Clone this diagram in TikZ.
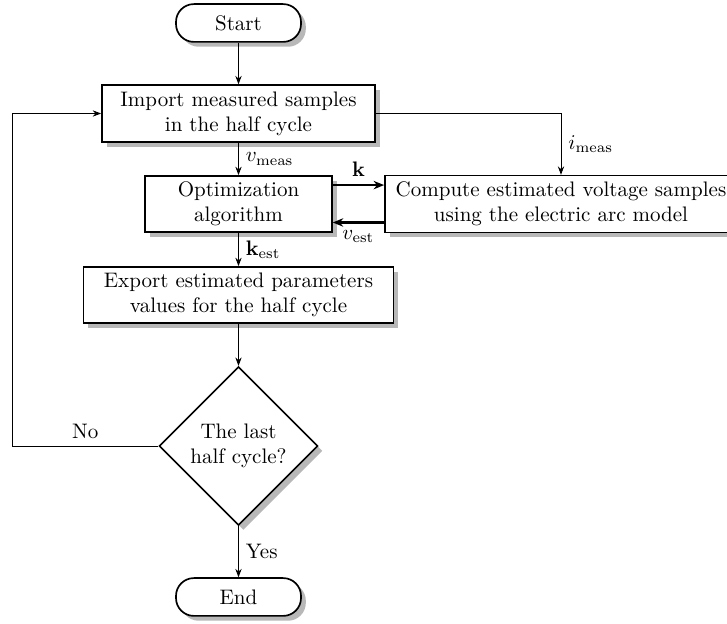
\documentclass[tikz,border=0pt]{standalone}
\usetikzlibrary{shapes.geometric,shadows,arrows.meta}
\begin{document}
\begin{tikzpicture}[x=0.476pt,y=-0.476pt,
  shad/.style={drop shadow={shadow xshift=2.3pt,shadow yshift=-2.3pt,fill=black!28,opacity=1}},
  procbox/.style={draw,thick,fill=white,shad,align=center,inner sep=0pt},
  termbox/.style={procbox,rounded corners=8.5pt,minimum width=59.5pt,minimum height=18pt},
  decbox/.style={draw,thick,fill=white,shad,diamond,aspect=1,align=center,inner sep=0pt,minimum width=75.5pt,minimum height=75.5pt},
  conn/.style={-{Stealth[length=4pt,width=3pt]}},
  boldconn/.style={very thick,-{Stealth[length=5pt,width=4pt]}},
  ]
\useasboundingbox (0,0) rectangle (727,624);
\node[termbox] (start) at (238.5,23) {Start};
\node[procbox,minimum width=130pt,minimum height=27pt] (import) at (238.5,113.5) {Import measured samples\\in the half cycle};
\node[procbox,minimum width=88.9pt,minimum height=26.7pt] (opt) at (238.5,204) {Optimization\\algorithm};
\node[procbox,minimum width=167.6pt,minimum height=27pt] (comp) at (561,204) {Compute estimated voltage samples\\using the electric arc model};
\node[procbox,minimum width=147.6pt,minimum height=26.7pt] (exp) at (238.5,295) {Export estimated parameters\\values for the half cycle};
\node[decbox] (dec) at (238.5,446) {The last\\half cycle?};
\node[termbox] (end) at (238.5,597) {End};
\coordinate (loopc) at (12,446);

\draw[conn] (start) -- (import);
\draw[conn] (import) -- node[right]{$v_{\mathrm{meas}}$} (opt);
\draw[conn] (import.east) -| node[pos=0.75,right]{$i_{\mathrm{meas}}$} (comp.north);
\draw[boldconn] ([yshift=9pt]opt.east) -- node[above]{$\mathbf{k}$} ([yshift=9pt]opt.east -| comp.west);
\draw[boldconn] ([yshift=-8.8pt]opt.east -| comp.west) -- node[below]{$v_{\mathrm{est}}$} ([yshift=-8.8pt]opt.east);
\draw[conn] (opt) -- node[right]{$\mathbf{k}_{\mathrm{est}}$} (exp);
\draw[conn] (exp) -- (dec);
\draw[conn] (dec) -- node[right]{Yes} (end);
\draw[conn] (dec.west) -- node[above]{No} (loopc) |- (import.west);
\end{tikzpicture}
\end{document}
